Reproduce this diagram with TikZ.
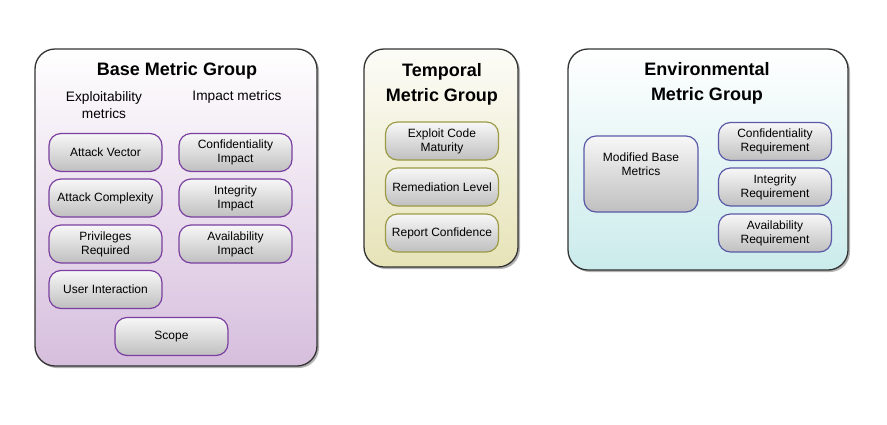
\documentclass[tikz,border=0pt]{standalone}
\usepackage{fontspec}
\setmainfont{Liberation Sans}
\usetikzlibrary{shadows}
\definecolor{basebot}{HTML}{D6BEDD}
\definecolor{tempbot}{HTML}{E6E3B8}
\definecolor{envbot}{HTML}{CBEBEB}
\definecolor{basebrd}{HTML}{7A3FA0}
\definecolor{tempbrd}{HTML}{9C9A45}
\definecolor{envbrd}{HTML}{5A5AA8}
\definecolor{grpbrd}{HTML}{333333}
\begin{document}
\begin{tikzpicture}[x=1pt,y=-1pt,
  group/.style={draw=grpbrd,line width=1.3pt,rounded corners=20pt,
    drop shadow={shadow xshift=2pt,shadow yshift=-2pt,opacity=0.6}},
  title/.style={font=\fontsize{18}{25}\selectfont\bfseries,align=center,inner sep=0pt},
  sub/.style={font=\fontsize{13.7}{17}\selectfont,align=center,inner sep=0pt},
  metric/.style={line width=1.2pt,rounded corners=12pt,top color=white!97!black,bottom color=black!25,
    font=\fontsize{12}{14}\selectfont,align=center,inner sep=0pt,
    minimum width=113pt,minimum height=38pt},
  bm/.style={metric,draw=basebrd},
  tm/.style={metric,draw=tempbrd},
  em/.style={metric,draw=envbrd}]
\useasboundingbox (0,0) rectangle (887,424);
% groups
\path[group,top color=white,bottom color=basebot] (35,49) rectangle (317,366);
\path[group,top color=white!90!tempbot,bottom color=tempbot] (364,49) rectangle (518,267);
\path[group,top color=white,bottom color=envbot] (568,49) rectangle (848,270);
% base
\node[title] (bt) at (177,71) {Base Metric Group};
\node[sub] (bex) at (104,105.5) {Exploitability\\metrics};
\node[sub] (bim) at (237,97) {Impact metrics};
\node[bm] (av) at (105.5,152.5) {Attack Vector};
\node[bm] (ac) at (105.5,198) {Attack Complexity};
\node[bm] (pr) at (105.5,244) {Privileges\\Required};
\node[bm] (ui) at (105.5,289.5) {User Interaction};
\node[bm] (ci) at (235.5,152.5) {Confidentiality\\Impact};
\node[bm] (ii) at (235.5,198) {Integrity\\Impact};
\node[bm] (ai) at (235.5,244) {Availability\\Impact};
\node[bm] (sc) at (171.5,336.5) {Scope};
% temporal
\node[title] (tt) at (442,84) {Temporal\\Metric Group};
\node[tm] (ecm) at (442,141) {Exploit Code\\Maturity};
\node[tm] (rl) at (442,187) {Remediation Level};
\node[tm] (rc) at (442,233) {Report Confidence};
% environmental
\node[title] (et) at (707,83.5) {Environmental\\Metric Group};
\node[em,minimum height=76pt,minimum width=114pt] (mbm) at (641,174) {};
\node[font=\fontsize{12}{14}\selectfont,align=center,inner sep=0pt] (mbt) at (641,164.5) {Modified Base\\Metrics};
\node[em] (cr) at (775,141.5) {Confidentiality\\Requirement};
\node[em] (ir) at (775,187) {Integrity\\Requirement};
\node[em] (ar) at (775,233) {Availability\\Requirement};
\end{tikzpicture}
\end{document}
